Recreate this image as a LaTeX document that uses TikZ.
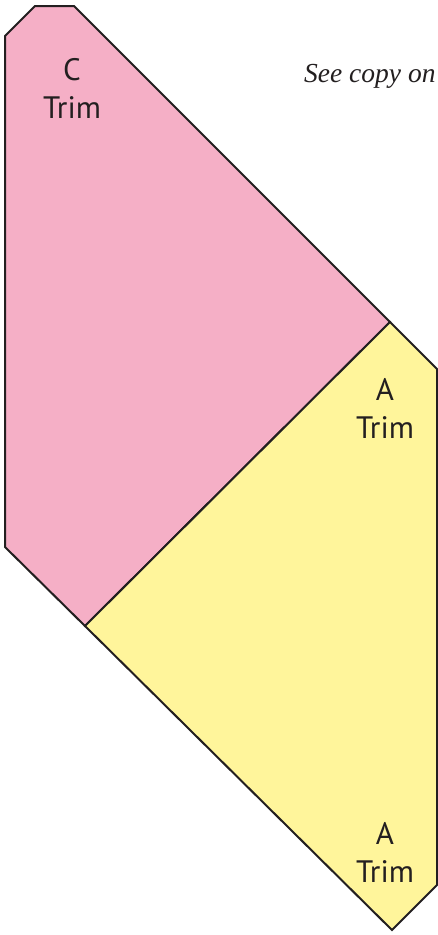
\documentclass[tikz,border=0pt]{standalone}
\usepackage{fontspec}
\setmainfont{Liberation Serif}
\newfontfamily\labelfont{PT Sans}
\definecolor{pinkfill}{HTML}{F5AFC6}
\definecolor{yellowfill}{HTML}{FFF59B}
\definecolor{edge}{HTML}{231F20}
\tikzset{
  panel/.style={draw=edge, line width=2pt, line join=miter},
  trimlabel/.style={font=\labelfont\fontsize{31}{38}\selectfont, text=edge, align=center, inner sep=0pt},
  notelabel/.style={font=\itshape\fontsize{27.5}{33}\selectfont, text=edge, anchor=base west, inner sep=0pt}
}
\begin{document}
\begin{tikzpicture}[x=1pt,y=-1pt]
\useasboundingbox (0,0) rectangle (438,935);
\fill[white] (0,0) rectangle (438,935);
% pink panel
\draw[panel, fill=pinkfill] (5,36) -- (35,6) -- (74,6) -- (390,322) -- (85,626) -- (5,547) -- cycle;
% yellow panel
\draw[panel, fill=yellowfill] (85,626) -- (390,322) -- (437,369) -- (437,885) -- (392,930) -- cycle;
\node[trimlabel] (c) at (72,88) {C\\Trim};
\node[trimlabel] (a1) at (385,408) {A\\Trim};
\node[trimlabel] (a2) at (385,852) {A\\Trim};
\node[notelabel] (note) at (304,82) {See copy on};
\end{tikzpicture}
\end{document}
